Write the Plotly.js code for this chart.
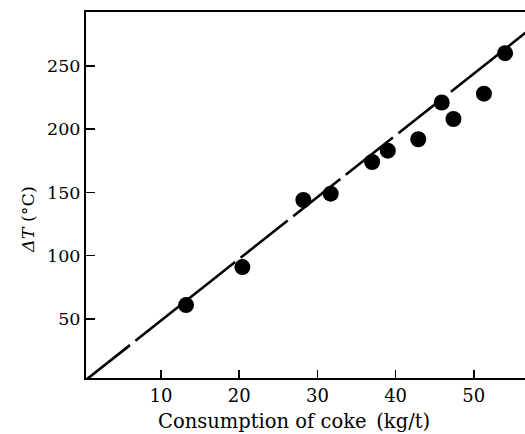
<!DOCTYPE html>
<html>
<head>
<meta charset="utf-8">
<script src="https://cdn.plot.ly/plotly-3.0.1.min.js"></script>
<style>html,body{margin:0;padding:0;background:#fff;}#chart{width:525px;height:434px;}</style>
</head>
<body>
<div id="chart"></div>
<script>
// Measured points: coke consumption (kg/t) vs temperature difference (°C)
const cokeX = [13.2, 20.4, 28.2, 31.7, 37.0, 39.0, 42.9, 45.9, 47.4, 51.3, 54.0];
const deltaT = [61, 91, 144, 149, 174, 183, 192, 221, 208, 228, 260];
// Fitted line end points
const fitX = [0, 56.6];
const fitY = [0, 276];
const xTicks = [10, 20, 30, 40, 50];
const yTicks = [50, 100, 150, 200, 250];

const font = {family: '"DejaVu Serif", "Liberation Serif", serif', color: '#000'};
const f = s => Object.assign({size: s}, font);

Plotly.newPlot('chart', [
  {x: fitX, y: fitY, mode: 'lines', line: {color: '#000', width: 2.6, dash: '60px,7px'}, hoverinfo: 'skip'},
  {x: cokeX, y: deltaT, mode: 'markers', marker: {color: '#000', size: 16}}
], {
  width: 525, height: 434,
  margin: {l: 86, r: 0, t: 12, b: 56},
  showlegend: false,
  paper_bgcolor: '#fff', plot_bgcolor: '#fff',
  font: f(18),
  xaxis: {
    range: [0.4, 56.55], tickvals: xTicks, ticks: 'inside', ticklen: 8, tickwidth: 1.5, tickcolor: '#000',
    showline: true, linecolor: '#000', linewidth: 2, mirror: true, showgrid: false, zeroline: false,
    tickfont: f(18)
  },
  yaxis: {
    range: [3.4, 292.5], tickvals: yTicks, ticks: 'inside', ticklen: 9, tickwidth: 1.5, tickcolor: '#000',
    showline: true, linecolor: '#000', linewidth: 2, mirror: false, showgrid: false, zeroline: false,
    tickfont: f(17.5)
  },
  annotations: [{
    text: '<i>ΔT</i> (°C)', textangle: -90, showarrow: false,
    xref: 'paper', yref: 'paper', x: -0.132, y: 0.432, xanchor: 'center', yanchor: 'middle',
    font: f(17.5)
  }, {
    text: 'Consumption of coke\u2002(kg/t)', showarrow: false,
    xref: 'paper', yref: 'paper', x: 0.474, y: -0.118, xanchor: 'center', yanchor: 'middle',
    font: f(19.5)
  }]
}, {staticPlot: true, displayModeBar: false});
</script>
</body>
</html>
